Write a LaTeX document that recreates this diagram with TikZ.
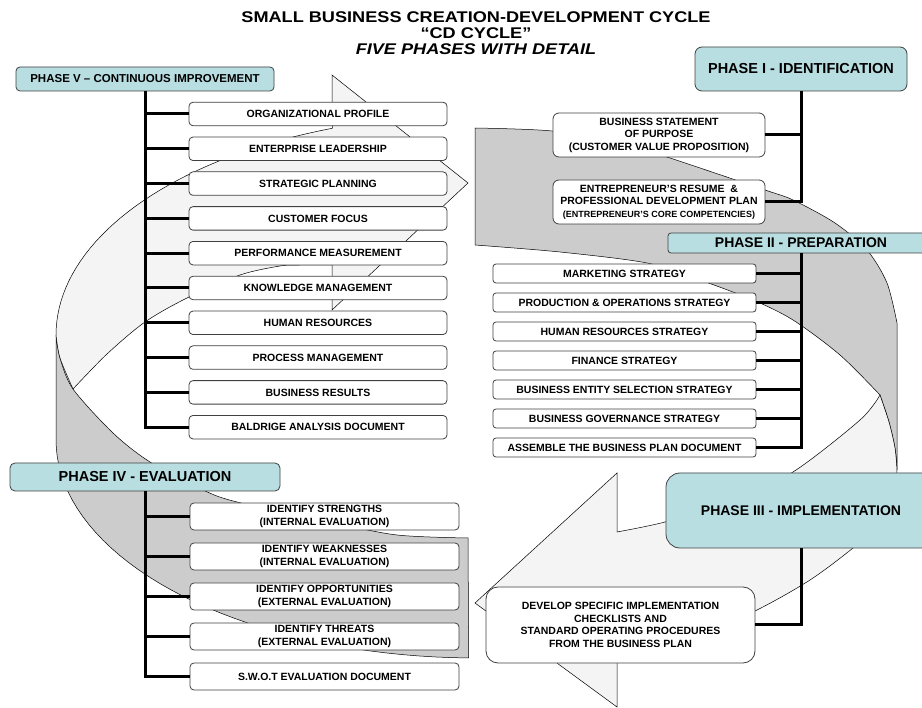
\documentclass[tikz,border=0pt]{standalone}
\usepackage{fontspec}
\setmainfont{Liberation Sans}
\newfontfamily\titlefont[FakeStretch=1.17]{Liberation Sans}
\usetikzlibrary{calc}

\definecolor{phasefill}{RGB}{184,222,226}
\definecolor{frontface}{RGB}{244,244,244}
\definecolor{backface}{RGB}{204,204,204}
\tikzset{
  phase/.style={draw=black!75, fill=phasefill, line width=0.8pt, rounded corners=4pt, inner sep=0pt, align=center,
    font=\fontsize{14.5}{16}\selectfont\bfseries},
  item/.style={draw=black!75, fill=white, line width=0.8pt, rounded corners=4pt, inner sep=0pt, align=center,
    font=\fontsize{10.5}{12.5}\selectfont\bfseries},
  trunk/.style={line width=3pt},
  band/.style={draw=black, line width=0.5pt}
}

\begin{document}
\begin{tikzpicture}[x=1pt, y=-1pt]
  \useasboundingbox (0,0) rectangle (922,708);
  \clip (0,0) rectangle (922,708);
  % cycle arrows behind everything: back faces dark, front faces light
  \filldraw[band, fill=backface] (56,335) -- (56,440)
    -- plot[domain=180:91, samples=40, variable=\t] ({476+420*cos(\t)}, {440+218*sin(\t)})
    -- (468,538)
    -- plot[smooth] coordinates {(468,538) (397,535) (330,522) (237,502) (203,490) (150,462) (113,433) (73,389) (60,358) (56,335)} -- cycle;
  \filldraw[band, fill=frontface] (332,75) -- (468,183) -- (332,310) -- (332,265)
    -- plot[smooth] coordinates {(332,265) (300,265) (280,266) (240,275) (187,298) (145,322) (107,354) (73,389)}
    -- plot[smooth] coordinates {(73,389) (60,358) (56,335)}
    -- plot[domain=180:110, samples=40, variable=\t] ({476+420*cos(\t)}, {335-220*sin(\t)}) -- cycle;
  \filldraw[band, fill=backface] (475,128)
    -- plot[smooth] coordinates {(475,128) (552,131) (620,143) (667,157) (765,190) (793,200) (835,223) (867,250) (887,283) (897,323)}
    -- (897,470)
    -- plot[smooth] coordinates {(897,470) (895,448) (889,422) (880,395)}
    -- plot[smooth] coordinates {(880,395) (840,355) (793,320) (753,300) (700,280) (647,263) (560,252) (475,245)} -- cycle;
  \filldraw[band, fill=frontface] (880,395)
    -- plot[smooth] coordinates {(880,395) (889,422) (895,448) (897,470)}
    -- plot[smooth] coordinates {(897,470) (894,500) (880,523) (853,548) (810,580) (757,610) (690,640) (617,662)}
    -- (617,707) -- (475,603) -- (617,473) -- (617,532)
    -- plot[smooth] coordinates {(617,532) (665,522) (730,502) (793,472) (860,420) (880,395)} -- cycle;

  % title
  \node[font=\titlefont\fontsize{15.5}{16}\selectfont\bfseries, align=center, inner sep=0pt] (title) at (476,33.5)
    {SMALL BUSINESS CREATION-DEVELOPMENT CYCLE\\“CD CYCLE”\\\textit{FIVE PHASES WITH DETAIL}};

  % phase V - continuous improvement
  \node[phase, minimum width=258pt, minimum height=24pt, font=\fontsize{11.5}{13}\selectfont\bfseries] (pV) at (145,79)
    {PHASE V – CONTINUOUS IMPROVEMENT};
  \foreach \txt [count=\k] in {ORGANIZATIONAL PROFILE, ENTERPRISE LEADERSHIP, STRATEGIC PLANNING, CUSTOMER FOCUS,
      PERFORMANCE MEASUREMENT, KNOWLEDGE MANAGEMENT, HUMAN RESOURCES, PROCESS MANAGEMENT, BUSINESS RESULTS,
      BALDRIGE ANALYSIS DOCUMENT}
    \node[item, minimum width=258pt, minimum height=23.5pt] (pv\k) at (318,{114+34.8*(\k-1)}) {\txt};
  \draw[trunk] (pV.south) |- (pv10.west);
  \foreach \k in {1,...,9} \draw[trunk] (pV.south |- pv\k.west) -- (pv\k.west);

  % phase I - identification
  \node[phase, minimum width=212pt, minimum height=44pt, rounded corners=7pt] (pI) at (801,69) {PHASE I - IDENTIFICATION};
  \node[item, minimum width=212pt, minimum height=44pt, rounded corners=6pt] (pi1) at (659,135)
    {BUSINESS STATEMENT\\OF PURPOSE\\(CUSTOMER VALUE PROPOSITION)};
  \node[item, minimum width=212pt, minimum height=44pt, rounded corners=6pt] (pi2) at (659,202)
    {ENTREPRENEUR'S RESUME \ \&\\PROFESSIONAL DEVELOPMENT PLAN\\{\fontsize{9}{10.5}\selectfont (ENTREPRENEUR'S CORE COMPETENCIES)}};
  \draw[trunk] (pI.south) |- (pi2.east);
  \draw[trunk] (pI.south |- pi1.east) -- (pi1.east);

  % phase II - preparation
  \node[phase, minimum width=266pt, minimum height=20pt, rounded corners=3pt, font=\fontsize{14}{16}\selectfont\bfseries] (pII) at (801,243)
    {PHASE II - PREPARATION};
  \foreach \txt [count=\k] in {MARKETING STRATEGY, PRODUCTION \& OPERATIONS STRATEGY, HUMAN RESOURCES STRATEGY,
      FINANCE STRATEGY, BUSINESS ENTITY SELECTION STRATEGY, BUSINESS GOVERNANCE STRATEGY,
      ASSEMBLE THE BUSINESS PLAN DOCUMENT}
    \node[item, minimum width=263pt, minimum height=19pt, rounded corners=3pt] (pii\k) at (624.5,{273.5+29*(\k-1)}) {\txt};
  \draw[trunk] (pII.south) |- (pii7.east);
  \foreach \k in {1,...,6} \draw[trunk] (pII.south |- pii\k.east) -- (pii\k.east);

  % phase III - implementation
  \node[phase, minimum width=270pt, minimum height=75pt, rounded corners=14pt, font=\fontsize{14}{16}\selectfont\bfseries] (pIII) at (801,510.5)
    {PHASE III - IMPLEMENTATION};
  \node[item, minimum width=269pt, minimum height=76pt, rounded corners=12pt, font=\fontsize{10.5}{12.7}\selectfont\bfseries] (piii) at (620.5,625)
    {DEVELOP SPECIFIC IMPLEMENTATION\\CHECKLISTS AND\\STANDARD OPERATING PROCEDURES\\FROM THE BUSINESS PLAN};
  \draw[trunk] (pIII.south) |- (piii.east);

  % phase IV - evaluation
  \node[phase, minimum width=270pt, minimum height=28pt, rounded corners=5pt] (pIV) at (145,477) {PHASE IV - EVALUATION};
  \foreach \txt [count=\k] in {{IDENTIFY STRENGTHS\\(INTERNAL EVALUATION)}, {IDENTIFY WEAKNESSES\\(INTERNAL EVALUATION)},
      {IDENTIFY OPPORTUNITIES\\(EXTERNAL EVALUATION)}, {IDENTIFY THREATS\\(EXTERNAL EVALUATION)},
      {S.W.O.T EVALUATION DOCUMENT}}
    \node[item, minimum width=269pt, minimum height=27pt, font=\fontsize{10.5}{13}\selectfont\bfseries] (piv\k) at (324.5,{516.5+40*(\k-1)}) {\txt};
  \draw[trunk] (pIV.south) |- (piv5.west);
  \foreach \k in {1,...,4} \draw[trunk] (pIV.south |- piv\k.west) -- (piv\k.west);
\end{tikzpicture}
\end{document}
